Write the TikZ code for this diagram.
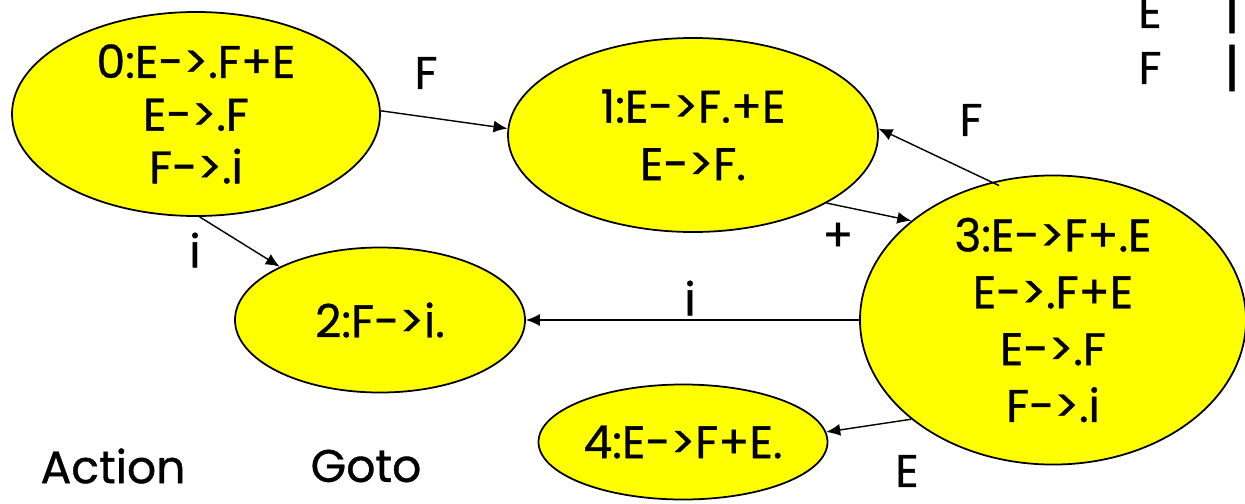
\documentclass[tikz,border=0pt]{standalone}
\usepackage{fontspec}
\setmainfont[FakeBold=0.8]{Poppins}
\usetikzlibrary{shapes.geometric,arrows.meta}
\definecolor{stateyellow}{RGB}{255,255,0}

\begin{document}
\begin{tikzpicture}[x=0.03cm, y=-0.03cm,
  lrstate/.style={ellipse, draw, line width=1.5pt, fill=stateyellow, inner sep=0pt,
    align=center, font=\fontsize{39}{45}\selectfont},
  trans/.style={-{Latex[length=0.42cm, width=0.36cm]}, line width=1.2pt},
  lbl/.style={font=\fontsize{39}{45}\selectfont}]
  \useasboundingbox (0,0) rectangle (1245,503);
  \node[lrstate, minimum width=11.04cm, minimum height=6.12cm] (s0) at (196,114) {0:E->.F+E\\E->.F\\F->.i};
  \node[lrstate, minimum width=11.1cm, minimum height=5.82cm,
    font=\fontsize{39}{49}\selectfont] (s1) at (693,135) {1:E->F.+E\\E->F.};
  \node[lrstate, minimum width=8.7cm, minimum height=4.35cm] (s2) at (380,320) {2:F->i.};
  \node[lrstate, minimum width=11.58cm, minimum height=8.16cm,
    font=\fontsize{39}{48.5}\selectfont] (s3) at (1053,320) {3:E->F+.E\\E->.F+E\\E->.F\\F->.i};
  \node[lrstate, minimum width=8.67cm, minimum height=3.45cm] (s4) at (683,442) {4:E->F+E.};

  \draw[trans] (s0.1) -- (s1.178);
  \draw[trans] (s0.-88) -- (s2.152);
  \draw[trans] (s1.-27) -- (s3.145);
  \draw[trans, shorten <=-0.25cm] (s3.114) -- (s1.2);
  \draw[trans] (s3.west) -- (s2.east);
  \draw[trans] (s3.215) -- (s4.4);

  \node[lbl] (f01) at (426,73) {F};
  \node[lbl] (i02) at (195,250) {i};
  \node[lbl] (p13) at (838,237) {+};
  \node[lbl] (f31) at (971,120) {F};
  \node[lbl] (i32) at (690,298) {i};
  \node[lbl] (e34) at (907,471) {E};

  \node[lbl] (gE) at (1150,12) {E};
  \node[lbl] (gF) at (1150,68) {F};
  \node[lbl, font=\fontsize{44}{50}\selectfont] (barE) at (1232,10) {|};
  \node[lbl, font=\fontsize{44}{50}\selectfont] (barF) at (1232,68) {|};
  \node[lbl] (act) at (113,466) {Action};
  \node[lbl] (gto) at (366,466) {Goto};
\end{tikzpicture}
\end{document}
